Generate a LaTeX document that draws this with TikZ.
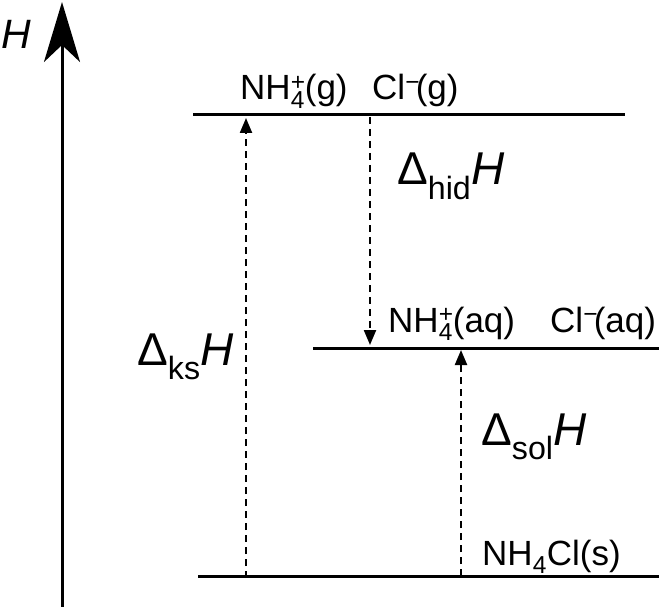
\documentclass[tikz,border=0pt]{standalone}
\usepackage{fontspec}
\setmainfont{Liberation Sans}
\usetikzlibrary{arrows.meta}
\newcommand{\ionp}{\rlap{\textsuperscript{+}}\textsubscript{4}}
\newcommand{\ionm}{\rlap{\textsuperscript{\textminus}}\kern0.3em}
\begin{document}
\begin{tikzpicture}[x=1pt,y=-1pt,
  level/.style={line width=3pt},
  dasharrow/.style={line width=2.2pt,dash pattern=on 7pt off 5pt,-{Triangle[length=15pt,width=12pt]}},
  species/.style={font=\fontsize{35}{40}\selectfont,anchor=base west,inner sep=0pt},
  deltalbl/.style={font=\fontsize{46}{52}\selectfont,anchor=base west,inner sep=0pt}]
\useasboundingbox (0,0) rectangle (659,607);
% axis
\coordinate (axb) at (62,607);
\coordinate (axt) at (62,2);
\draw[line width=3pt,-{Stealth[length=60pt,width=36pt,inset=17pt]}] (axb) -- (axt);
\node[font=\fontsize{41}{46}\selectfont\itshape,anchor=base west,inner sep=0pt] (hlab) at (1,49) {H};
% levels
\coordinate (t1) at (193,115); \coordinate (t2) at (625,115);
\coordinate (m1) at (313,348); \coordinate (m2) at (659,348);
\coordinate (b1) at (198,576); \coordinate (b2) at (659,576);
\draw[level] (t1) -- (t2);
\draw[level] (m1) -- (m2);
\draw[level] (b1) -- (b2);
% arrows
\coordinate (ks0) at (246,578); \coordinate (ks1) at (246,118);
\coordinate (hid0) at (370,117); \coordinate (hid1) at (370,345);
\coordinate (sol0) at (461,576); \coordinate (sol1) at (461,350);
\draw[dasharrow] (ks0) -- (ks1);
\draw[dasharrow] (hid0) -- (hid1);
\draw[dasharrow] (sol0) -- (sol1);
% species labels
\node[species] (nh4g) at (240,100) {NH\ionp(g)};
\node[species] (clg) at (372,100) {Cl\ionm(g)};
\node[species] (nh4aq) at (388,332) {NH\ionp(aq)};
\node[species] (claq) at (550,332) {Cl\ionm(aq)};
\node[species] (nh4cl) at (482,565) {NH\textsubscript{4}Cl(s)};
% enthalpy labels
\node[deltalbl] (dks) at (137,365) {Δ\textsubscript{ks}\textit{H}};
\node[deltalbl] (dhid) at (397,185) {Δ\textsubscript{hid}\textit{H}};
\node[deltalbl] (dsol) at (481,445) {Δ\textsubscript{sol}\textit{H}};
\end{tikzpicture}
\end{document}
